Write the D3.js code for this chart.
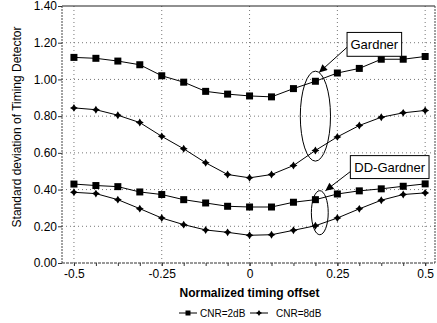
<!DOCTYPE html>
<html>
<head>
<meta charset="utf-8">
<script src="https://cdn.jsdelivr.net/npm/d3@7"></script>
<style>
  body { margin: 0; background: #fff; }
  svg { display: block; font-family: 'Liberation Sans', Arial, sans-serif; }
</style>
</head>
<body>
<svg id="chart"></svg>
<script>
const timingOffsets = [-0.5, -0.4375, -0.375, -0.3125, -0.25, -0.1875, -0.125, -0.0625, 0,
  0.0625, 0.125, 0.1875, 0.25, 0.3125, 0.375, 0.4375, 0.5];

const gardner2dB = [1.12, 1.115, 1.10, 1.08, 1.02, 0.985, 0.935, 0.92, 0.91,
  0.905, 0.95, 0.99, 1.035, 1.06, 1.11, 1.11, 1.125];
const gardner8dB = [0.845, 0.835, 0.805, 0.765, 0.69, 0.622, 0.546, 0.482, 0.464,
  0.482, 0.531, 0.613, 0.687, 0.749, 0.794, 0.818, 0.831];
const ddGardner2dB = [0.43, 0.422, 0.416, 0.387, 0.373, 0.345, 0.327, 0.309, 0.305,
  0.305, 0.331, 0.345, 0.376, 0.393, 0.404, 0.418, 0.431];
const ddGardner8dB = [0.385, 0.378, 0.345, 0.296, 0.245, 0.209, 0.18, 0.167, 0.151,
  0.154, 0.178, 0.203, 0.245, 0.295, 0.342, 0.373, 0.382];

const xTickValues = [-0.5, -0.25, 0, 0.25, 0.5];
const xTickLabels = ['-0.5', '-0.25', '0', '0.25', '0.5'];
const yTickValues = [0, 0.2, 0.4, 0.6, 0.8, 1.0, 1.2, 1.4];
const cnrLabels = ['CNR=2dB', 'CNR=8dB'];

// annotation boxes / ellipses, in data units
const annotations = [
  { label: 'Gardner', box: [0.2776, 1.256, 0.433, 1.126], ellipse: [0.1875, 0.80, 0.043, 0.245],
    arrowFrom: [0.2776, 1.175], arrowTo: [0.198, 1.038] },
  { label: 'DD-Gardner', box: [0.287, 0.585, 0.511, 0.46], ellipse: [0.2, 0.274, 0.024, 0.12],
    arrowFrom: [0.287, 0.498], arrowTo: [0.216, 0.394] }
];

const series = [
  { values: gardner2dB, cnr: 0 },
  { values: gardner8dB, cnr: 1 },
  { values: ddGardner2dB, cnr: 0 },
  { values: ddGardner8dB, cnr: 1 }
];

const width = 437;
const height = 323;
const margin = { top: 6, right: 2, bottom: 60, left: 62 };
const innerWidth = width - margin.left - margin.right;
const innerHeight = height - margin.top - margin.bottom;

const svg = d3.select('#chart')
  .attr('width', width)
  .attr('height', height);

svg.append('defs').append('marker')
  .attr('id', 'arrow')
  .attr('viewBox', '0 0 10 10')
  .attr('refX', 10).attr('refY', 5)
  .attr('markerUnits', 'userSpaceOnUse')
  .attr('markerWidth', 11).attr('markerHeight', 8)
  .attr('orient', 'auto')
  .append('path')
  .attr('d', 'M0,0 L10,5 L0,10 Z')
  .attr('fill', '#000');

const g = svg.append('g')
  .attr('transform', `translate(${margin.left},${margin.top})`);

const x = d3.scaleLinear().domain([-0.534, 0.528]).range([0, innerWidth]);
const y = d3.scaleLinear().domain([0, 1.4]).range([innerHeight, 0]);

// Grid lines
g.append('g')
  .selectAll('line')
  .data(yTickValues.filter(v => v > 0 && v < 1.4))
  .join('line')
  .attr('x1', 0).attr('x2', innerWidth)
  .attr('y1', d => y(d)).attr('y2', d => y(d))
  .attr('stroke', '#777').attr('stroke-width', 1)
  .attr('stroke-dasharray', '1,3');

g.append('g')
  .selectAll('line')
  .data(xTickValues)
  .join('line')
  .attr('x1', d => x(d)).attr('x2', d => x(d))
  .attr('y1', 0).attr('y2', innerHeight)
  .attr('stroke', '#777').attr('stroke-width', 1)
  .attr('stroke-dasharray', '1,3');

// Frame
g.append('line').attr('x1', 0).attr('x2', innerWidth).attr('y1', 0).attr('y2', 0)
  .attr('stroke', '#222').attr('stroke-width', 1.2);
g.append('line').attr('x1', 0).attr('x2', 0).attr('y1', 0).attr('y2', innerHeight)
  .attr('stroke', '#444').attr('stroke-dasharray', '2,1');
g.append('line').attr('x1', innerWidth).attr('x2', innerWidth).attr('y1', 0).attr('y2', innerHeight)
  .attr('stroke', '#444').attr('stroke-dasharray', '2,1');
g.append('line').attr('x1', 0).attr('x2', innerWidth).attr('y1', innerHeight).attr('y2', innerHeight)
  .attr('stroke', '#333').attr('stroke-dasharray', '3,1');

// X axis: small ticks at every offset, labels at the major ones
g.append('g')
  .attr('transform', `translate(0,${innerHeight})`)
  .call(d3.axisBottom(x).tickValues(timingOffsets).tickSize(3).tickFormat(''))
  .call(a => a.select('.domain').remove())
  .call(a => a.selectAll('text').remove())
  .call(a => a.selectAll('line').attr('stroke', '#333'));

g.append('g')
  .attr('transform', `translate(0,${innerHeight})`)
  .call(d3.axisBottom(x)
    .tickValues(xTickValues)
    .tickSize(3)
    .tickFormat((d, i) => xTickLabels[i]))
  .call(a => a.select('.domain').remove())
  .call(a => a.selectAll('line').attr('stroke', '#333'))
  .selectAll('text')
  .attr('fill', '#000')
  .attr('font-size', '12px')
  .attr('font-family', 'Liberation Sans, Arial, sans-serif');

// Y axis
g.append('g')
  .call(d3.axisLeft(y)
    .tickValues(yTickValues)
    .tickSize(4)
    .tickPadding(1)
    .tickFormat(d3.format('.2f')))
  .call(a => a.select('.domain').remove())
  .call(a => a.selectAll('line').attr('stroke', '#333'))
  .selectAll('text')
  .attr('fill', '#000')
  .attr('font-size', '12px')
  .attr('font-family', 'Liberation Sans, Arial, sans-serif');

// Markers
const starDiamond = {
  draw(ctx, size) {
    const r = Math.sqrt(size) / 1.6;
    const k = r * 0.38;
    ctx.moveTo(0, -r); ctx.lineTo(k, -k); ctx.lineTo(r, 0); ctx.lineTo(k, k);
    ctx.lineTo(0, r); ctx.lineTo(-k, k); ctx.lineTo(-r, 0); ctx.lineTo(-k, -k);
    ctx.closePath();
  }
};
const markerTypes = [d3.symbolSquare, starDiamond];
const markerSizes = [49, 40];

const line = d3.line()
  .x((d, i) => x(timingOffsets[i]))
  .y(d => y(d));

series.forEach(s => {
  g.append('path')
    .datum(s.values)
    .attr('fill', 'none')
    .attr('stroke', '#000')
    .attr('stroke-width', 1)
    .attr('d', line);

  g.selectAll(null)
    .data(s.values)
    .join('path')
    .attr('transform', (d, i) => `translate(${x(timingOffsets[i])},${y(d)})`)
    .attr('d', d3.symbol().type(markerTypes[s.cnr]).size(markerSizes[s.cnr]))
    .attr('fill', '#000');
});

// Annotations
annotations.forEach(a => {
  const [ex, ey, erx, ery] = a.ellipse;
  g.append('ellipse')
    .attr('cx', x(ex)).attr('cy', y(ey))
    .attr('rx', x(ex + erx) - x(ex)).attr('ry', y(ey) - y(ey + ery))
    .attr('fill', 'none').attr('stroke', '#000').attr('stroke-width', 1);

  g.append('line')
    .attr('x1', x(a.arrowFrom[0])).attr('y1', y(a.arrowFrom[1]))
    .attr('x2', x(a.arrowTo[0])).attr('y2', y(a.arrowTo[1]))
    .attr('stroke', '#000').attr('stroke-width', 1)
    .attr('marker-end', 'url(#arrow)');

  const [bx0, by0, bx1, by1] = a.box;
  g.append('rect')
    .attr('x', x(bx0)).attr('y', y(by0))
    .attr('width', x(bx1) - x(bx0)).attr('height', y(by1) - y(by0))
    .attr('fill', '#fff').attr('stroke', '#000').attr('stroke-width', 1);

  g.append('text')
    .attr('x', (x(bx0) + x(bx1)) / 2)
    .attr('y', (y(by0) + y(by1)) / 2)
    .attr('dy', '0.35em')
    .attr('text-anchor', 'middle')
    .attr('font-size', '13px')
    .text(a.label);
});

// Axis titles
svg.append('text')
  .attr('x', margin.left + x(0))
  .attr('y', 297)
  .attr('text-anchor', 'middle')
  .attr('font-size', '12px')
  .attr('font-weight', 'bold')
  .text('Normalized timing offset');

svg.append('text')
  .attr('transform', 'translate(21,127) rotate(-90)')
  .attr('text-anchor', 'middle')
  .attr('font-size', '12px')
  .text('Standard deviation of Timing Detector');

// Legend
const legend = svg.append('g').attr('transform', 'translate(179,313)');
const legendOffsets = [0, 71];
cnrLabels.forEach((label, i) => {
  const lg = legend.append('g').attr('transform', `translate(${legendOffsets[i]},0)`);
  lg.append('line').attr('x1', 0).attr('x2', 18).attr('y1', 0).attr('y2', 0)
    .attr('stroke', '#000').attr('stroke-width', 1);
  lg.append('path')
    .attr('transform', 'translate(9,0)')
    .attr('d', d3.symbol().type(markerTypes[i]).size(i === 0 ? 25 : 24))
    .attr('fill', '#000');
  lg.append('text')
    .attr('x', i === 0 ? 21 : 26)
    .attr('dy', '0.35em')
    .attr('font-size', '10px')
    .text(label);
});
</script>
</body>
</html>
